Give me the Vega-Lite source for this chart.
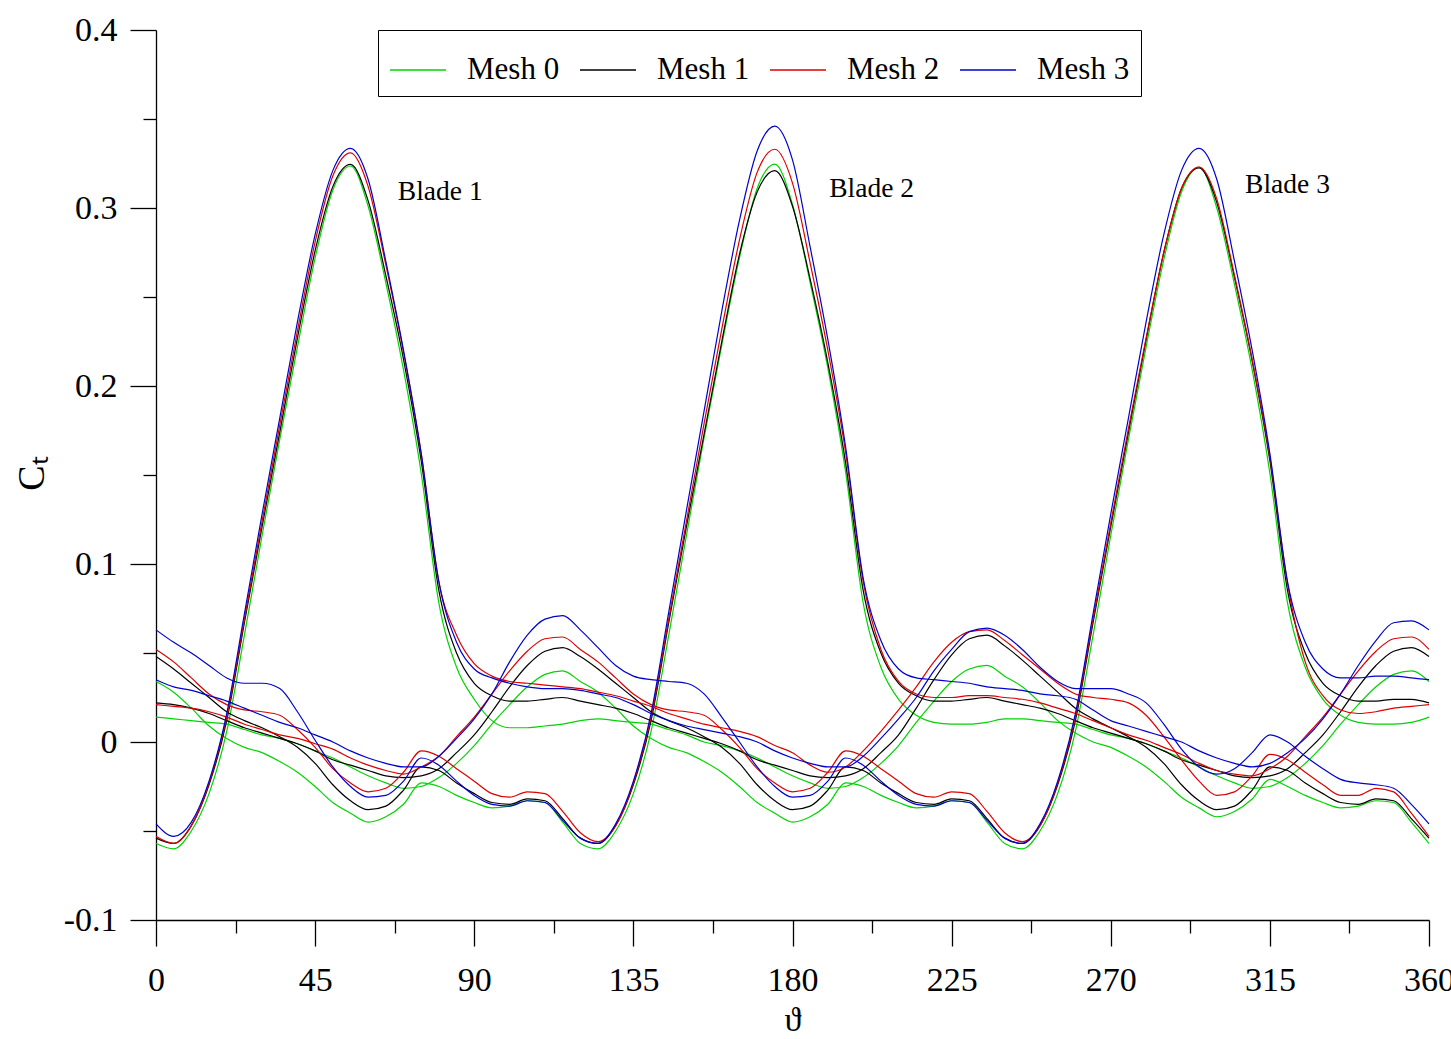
{
"$schema": "https://vega.github.io/schema/vega-lite/v6.json",
"width": 1273, "height": 890,
"autosize": {"type": "none"},
"padding": {"left": 156, "top": 30, "right": 22, "bottom": 119},
"background": "white",
"config": {"view": {"stroke": null}, "font": "Liberation Serif",
 "axis": {"grid": false, "labelFlush": false, "labelOverlap": false, "domainColor": "black", "tickColor": "black", "labelColor": "black", "titleColor": "black", "domainWidth": 1.3, "tickWidth": 1.3, "labelFont": "Liberation Serif", "titleFont": "Liberation Serif", "titleFontWeight": "normal"}},
"layer": [
{
"data": {"values": [
{"m":"Mesh 0","t":0,"a":-0.057,"b":0.034,"c":0.014},
{"m":"Mesh 0","t":5,"a":-0.060,"b":0.028,"c":0.013},
{"m":"Mesh 0","t":10,"a":-0.050,"b":0.019,"c":0.012},
{"m":"Mesh 0","t":15,"a":-0.029,"b":0.009,"c":0.011},
{"m":"Mesh 0","t":20,"a":0.006,"b":0.002,"c":0.010},
{"m":"Mesh 0","t":25,"a":0.060,"b":-0.003,"c":0.007},
{"m":"Mesh 0","t":30,"a":0.116,"b":-0.006,"c":0.004},
{"m":"Mesh 0","t":35,"a":0.170,"b":-0.011,"c":0.002},
{"m":"Mesh 0","t":40,"a":0.222,"b":-0.017,"c":-0.001},
{"m":"Mesh 0","t":45,"a":0.272,"b":-0.025,"c":-0.005},
{"m":"Mesh 0","t":50,"a":0.310,"b":-0.034,"c":-0.009},
{"m":"Mesh 0","t":55,"a":0.3236,"b":-0.040,"c":-0.014},
{"m":"Mesh 0","t":60,"a":0.301,"b":-0.045,"c":-0.019},
{"m":"Mesh 0","t":65,"a":0.258,"b":-0.042,"c":-0.023},
{"m":"Mesh 0","t":70,"a":0.209,"b":-0.035,"c":-0.026},
{"m":"Mesh 0","t":75,"a":0.151,"b":-0.023,"c":-0.025},
{"m":"Mesh 0","t":80,"a":0.078,"b":-0.025,"c":-0.020},
{"m":"Mesh 0","t":85,"a":0.042,"b":-0.030,"c":-0.012},
{"m":"Mesh 0","t":90,"a":0.024,"b":-0.034,"c":-0.002},
{"m":"Mesh 0","t":95,"a":0.012,"b":-0.037,"c":0.010},
{"m":"Mesh 0","t":100,"a":0.008,"b":-0.036,"c":0.021},
{"m":"Mesh 0","t":105,"a":0.008,"b":-0.033,"c":0.031},
{"m":"Mesh 0","t":110,"a":0.009,"b":-0.034,"c":0.038},
{"m":"Mesh 0","t":115,"a":0.010,"b":-0.045,"c":0.040},
{"m":"Mesh 0","t":120,"a":0.012,"b":-0.057,"c":0.034},
{"m":"Mesh 0","t":125,"a":0.013,"b":-0.060,"c":0.028},
{"m":"Mesh 0","t":130,"a":0.012,"b":-0.050,"c":0.019},
{"m":"Mesh 0","t":135,"a":0.011,"b":-0.029,"c":0.009},
{"m":"Mesh 0","t":140,"a":0.010,"b":0.006,"c":0.002},
{"m":"Mesh 0","t":145,"a":0.007,"b":0.060,"c":-0.003},
{"m":"Mesh 0","t":150,"a":0.004,"b":0.116,"c":-0.006},
{"m":"Mesh 0","t":155,"a":0.000,"b":0.171,"c":-0.011},
{"m":"Mesh 0","t":160,"a":-0.002,"b":0.223,"c":-0.017},
{"m":"Mesh 0","t":165,"a":-0.005,"b":0.272,"c":-0.025},
{"m":"Mesh 0","t":170,"a":-0.009,"b":0.311,"c":-0.034},
{"m":"Mesh 0","t":175,"a":-0.014,"b":0.3247,"c":-0.040},
{"m":"Mesh 0","t":180,"a":-0.019,"b":0.302,"c":-0.045},
{"m":"Mesh 0","t":185,"a":-0.023,"b":0.258,"c":-0.042},
{"m":"Mesh 0","t":190,"a":-0.026,"b":0.210,"c":-0.035},
{"m":"Mesh 0","t":195,"a":-0.025,"b":0.152,"c":-0.023},
{"m":"Mesh 0","t":200,"a":-0.020,"b":0.078,"c":-0.025},
{"m":"Mesh 0","t":205,"a":-0.012,"b":0.042,"c":-0.030},
{"m":"Mesh 0","t":210,"a":-0.002,"b":0.024,"c":-0.034},
{"m":"Mesh 0","t":215,"a":0.011,"b":0.015,"c":-0.037},
{"m":"Mesh 0","t":220,"a":0.023,"b":0.011,"c":-0.036},
{"m":"Mesh 0","t":225,"a":0.034,"b":0.010,"c":-0.033},
{"m":"Mesh 0","t":230,"a":0.041,"b":0.010,"c":-0.034},
{"m":"Mesh 0","t":235,"a":0.043,"b":0.011,"c":-0.045},
{"m":"Mesh 0","t":240,"a":0.037,"b":0.013,"c":-0.057},
{"m":"Mesh 0","t":245,"a":0.031,"b":0.013,"c":-0.060},
{"m":"Mesh 0","t":250,"a":0.022,"b":0.012,"c":-0.050},
{"m":"Mesh 0","t":255,"a":0.012,"b":0.011,"c":-0.029},
{"m":"Mesh 0","t":260,"a":0.005,"b":0.010,"c":0.006},
{"m":"Mesh 0","t":265,"a":0.000,"b":0.007,"c":0.060},
{"m":"Mesh 0","t":270,"a":-0.003,"b":0.004,"c":0.116},
{"m":"Mesh 0","t":275,"a":-0.008,"b":0.002,"c":0.170},
{"m":"Mesh 0","t":280,"a":-0.014,"b":-0.001,"c":0.222},
{"m":"Mesh 0","t":285,"a":-0.022,"b":-0.005,"c":0.271},
{"m":"Mesh 0","t":290,"a":-0.031,"b":-0.009,"c":0.309},
{"m":"Mesh 0","t":295,"a":-0.037,"b":-0.014,"c":0.323},
{"m":"Mesh 0","t":300,"a":-0.042,"b":-0.019,"c":0.300},
{"m":"Mesh 0","t":305,"a":-0.039,"b":-0.023,"c":0.257},
{"m":"Mesh 0","t":310,"a":-0.032,"b":-0.026,"c":0.209},
{"m":"Mesh 0","t":315,"a":-0.021,"b":-0.025,"c":0.151},
{"m":"Mesh 0","t":320,"a":-0.025,"b":-0.020,"c":0.078},
{"m":"Mesh 0","t":325,"a":-0.030,"b":-0.012,"c":0.042},
{"m":"Mesh 0","t":330,"a":-0.034,"b":-0.002,"c":0.024},
{"m":"Mesh 0","t":335,"a":-0.037,"b":0.010,"c":0.015},
{"m":"Mesh 0","t":340,"a":-0.036,"b":0.021,"c":0.011},
{"m":"Mesh 0","t":345,"a":-0.033,"b":0.031,"c":0.010},
{"m":"Mesh 0","t":350,"a":-0.034,"b":0.038,"c":0.010},
{"m":"Mesh 0","t":355,"a":-0.045,"b":0.040,"c":0.011},
{"m":"Mesh 0","t":360,"a":-0.057,"b":0.034,"c":0.014},
{"m":"Mesh 1","t":0,"a":-0.054,"b":0.048,"c":0.022},
{"m":"Mesh 1","t":5,"a":-0.057,"b":0.041,"c":0.021},
{"m":"Mesh 1","t":10,"a":-0.047,"b":0.033,"c":0.019},
{"m":"Mesh 1","t":15,"a":-0.024,"b":0.025,"c":0.016},
{"m":"Mesh 1","t":20,"a":0.012,"b":0.017,"c":0.012},
{"m":"Mesh 1","t":25,"a":0.067,"b":0.012,"c":0.008},
{"m":"Mesh 1","t":30,"a":0.121,"b":0.008,"c":0.005},
{"m":"Mesh 1","t":35,"a":0.174,"b":0.003,"c":0.002},
{"m":"Mesh 1","t":40,"a":0.227,"b":-0.003,"c":-0.001},
{"m":"Mesh 1","t":45,"a":0.276,"b":-0.012,"c":-0.005},
{"m":"Mesh 1","t":50,"a":0.312,"b":-0.024,"c":-0.010},
{"m":"Mesh 1","t":55,"a":0.3245,"b":-0.033,"c":-0.013},
{"m":"Mesh 1","t":60,"a":0.304,"b":-0.038,"c":-0.016},
{"m":"Mesh 1","t":65,"a":0.262,"b":-0.036,"c":-0.019},
{"m":"Mesh 1","t":70,"a":0.215,"b":-0.027,"c":-0.020},
{"m":"Mesh 1","t":75,"a":0.158,"b":-0.014,"c":-0.019},
{"m":"Mesh 1","t":80,"a":0.085,"b":-0.016,"c":-0.015},
{"m":"Mesh 1","t":85,"a":0.050,"b":-0.023,"c":-0.006},
{"m":"Mesh 1","t":90,"a":0.033,"b":-0.029,"c":0.004},
{"m":"Mesh 1","t":95,"a":0.026,"b":-0.034,"c":0.017},
{"m":"Mesh 1","t":100,"a":0.023,"b":-0.035,"c":0.031},
{"m":"Mesh 1","t":105,"a":0.023,"b":-0.032,"c":0.043},
{"m":"Mesh 1","t":110,"a":0.024,"b":-0.033,"c":0.051},
{"m":"Mesh 1","t":115,"a":0.025,"b":-0.043,"c":0.053},
{"m":"Mesh 1","t":120,"a":0.023,"b":-0.054,"c":0.048},
{"m":"Mesh 1","t":125,"a":0.021,"b":-0.057,"c":0.041},
{"m":"Mesh 1","t":130,"a":0.019,"b":-0.047,"c":0.033},
{"m":"Mesh 1","t":135,"a":0.016,"b":-0.024,"c":0.025},
{"m":"Mesh 1","t":140,"a":0.012,"b":0.012,"c":0.017},
{"m":"Mesh 1","t":145,"a":0.008,"b":0.067,"c":0.012},
{"m":"Mesh 1","t":150,"a":0.005,"b":0.121,"c":0.008},
{"m":"Mesh 1","t":155,"a":0.002,"b":0.173,"c":0.003},
{"m":"Mesh 1","t":160,"a":-0.001,"b":0.225,"c":-0.003},
{"m":"Mesh 1","t":165,"a":-0.005,"b":0.274,"c":-0.012},
{"m":"Mesh 1","t":170,"a":-0.010,"b":0.309,"c":-0.024},
{"m":"Mesh 1","t":175,"a":-0.013,"b":0.321,"c":-0.033},
{"m":"Mesh 1","t":180,"a":-0.016,"b":0.301,"c":-0.038},
{"m":"Mesh 1","t":185,"a":-0.019,"b":0.260,"c":-0.036},
{"m":"Mesh 1","t":190,"a":-0.020,"b":0.213,"c":-0.027},
{"m":"Mesh 1","t":195,"a":-0.019,"b":0.157,"c":-0.014},
{"m":"Mesh 1","t":200,"a":-0.015,"b":0.085,"c":-0.016},
{"m":"Mesh 1","t":205,"a":-0.006,"b":0.050,"c":-0.023},
{"m":"Mesh 1","t":210,"a":0.004,"b":0.033,"c":-0.029},
{"m":"Mesh 1","t":215,"a":0.019,"b":0.026,"c":-0.034},
{"m":"Mesh 1","t":220,"a":0.035,"b":0.023,"c":-0.035},
{"m":"Mesh 1","t":225,"a":0.049,"b":0.023,"c":-0.032},
{"m":"Mesh 1","t":230,"a":0.058,"b":0.024,"c":-0.033},
{"m":"Mesh 1","t":235,"a":0.060,"b":0.025,"c":-0.043},
{"m":"Mesh 1","t":240,"a":0.054,"b":0.023,"c":-0.054},
{"m":"Mesh 1","t":245,"a":0.046,"b":0.021,"c":-0.057},
{"m":"Mesh 1","t":250,"a":0.037,"b":0.019,"c":-0.047},
{"m":"Mesh 1","t":255,"a":0.028,"b":0.016,"c":-0.024},
{"m":"Mesh 1","t":260,"a":0.019,"b":0.012,"c":0.012},
{"m":"Mesh 1","t":265,"a":0.013,"b":0.008,"c":0.067},
{"m":"Mesh 1","t":270,"a":0.008,"b":0.005,"c":0.121},
{"m":"Mesh 1","t":275,"a":0.003,"b":0.002,"c":0.174},
{"m":"Mesh 1","t":280,"a":-0.003,"b":-0.001,"c":0.226},
{"m":"Mesh 1","t":285,"a":-0.012,"b":-0.005,"c":0.275},
{"m":"Mesh 1","t":290,"a":-0.024,"b":-0.010,"c":0.311},
{"m":"Mesh 1","t":295,"a":-0.033,"b":-0.013,"c":0.3225},
{"m":"Mesh 1","t":300,"a":-0.038,"b":-0.016,"c":0.303},
{"m":"Mesh 1","t":305,"a":-0.036,"b":-0.019,"c":0.261},
{"m":"Mesh 1","t":310,"a":-0.027,"b":-0.020,"c":0.214},
{"m":"Mesh 1","t":315,"a":-0.014,"b":-0.019,"c":0.158},
{"m":"Mesh 1","t":320,"a":-0.016,"b":-0.015,"c":0.085},
{"m":"Mesh 1","t":325,"a":-0.023,"b":-0.006,"c":0.050},
{"m":"Mesh 1","t":330,"a":-0.029,"b":0.004,"c":0.033},
{"m":"Mesh 1","t":335,"a":-0.034,"b":0.017,"c":0.026},
{"m":"Mesh 1","t":340,"a":-0.035,"b":0.031,"c":0.023},
{"m":"Mesh 1","t":345,"a":-0.032,"b":0.043,"c":0.023},
{"m":"Mesh 1","t":350,"a":-0.033,"b":0.051,"c":0.024},
{"m":"Mesh 1","t":355,"a":-0.043,"b":0.053,"c":0.024},
{"m":"Mesh 1","t":360,"a":-0.054,"b":0.048,"c":0.022},
{"m":"Mesh 2","t":0,"a":-0.053,"b":0.052,"c":0.021},
{"m":"Mesh 2","t":5,"a":-0.057,"b":0.045,"c":0.020},
{"m":"Mesh 2","t":10,"a":-0.047,"b":0.036,"c":0.019},
{"m":"Mesh 2","t":15,"a":-0.023,"b":0.027,"c":0.017},
{"m":"Mesh 2","t":20,"a":0.014,"b":0.021,"c":0.014},
{"m":"Mesh 2","t":25,"a":0.069,"b":0.018,"c":0.010},
{"m":"Mesh 2","t":30,"a":0.124,"b":0.017,"c":0.007},
{"m":"Mesh 2","t":35,"a":0.178,"b":0.015,"c":0.004},
{"m":"Mesh 2","t":40,"a":0.231,"b":0.007,"c":0.002},
{"m":"Mesh 2","t":45,"a":0.281,"b":-0.003,"c":-0.001},
{"m":"Mesh 2","t":50,"a":0.318,"b":-0.015,"c":-0.004},
{"m":"Mesh 2","t":55,"a":0.331,"b":-0.023,"c":-0.009},
{"m":"Mesh 2","t":60,"a":0.312,"b":-0.028,"c":-0.013},
{"m":"Mesh 2","t":65,"a":0.268,"b":-0.026,"c":-0.016},
{"m":"Mesh 2","t":70,"a":0.219,"b":-0.017,"c":-0.018},
{"m":"Mesh 2","t":75,"a":0.162,"b":-0.005,"c":-0.014},
{"m":"Mesh 2","t":80,"a":0.090,"b":-0.008,"c":-0.008},
{"m":"Mesh 2","t":85,"a":0.060,"b":-0.015,"c":0.003},
{"m":"Mesh 2","t":90,"a":0.044,"b":-0.022,"c":0.014},
{"m":"Mesh 2","t":95,"a":0.037,"b":-0.029,"c":0.027},
{"m":"Mesh 2","t":100,"a":0.034,"b":-0.031,"c":0.040},
{"m":"Mesh 2","t":105,"a":0.033,"b":-0.028,"c":0.051},
{"m":"Mesh 2","t":110,"a":0.032,"b":-0.029,"c":0.058},
{"m":"Mesh 2","t":115,"a":0.031,"b":-0.039,"c":0.059},
{"m":"Mesh 2","t":120,"a":0.030,"b":-0.051,"c":0.052},
{"m":"Mesh 2","t":125,"a":0.028,"b":-0.056,"c":0.045},
{"m":"Mesh 2","t":130,"a":0.026,"b":-0.047,"c":0.036},
{"m":"Mesh 2","t":135,"a":0.023,"b":-0.023,"c":0.027},
{"m":"Mesh 2","t":140,"a":0.020,"b":0.014,"c":0.021},
{"m":"Mesh 2","t":145,"a":0.016,"b":0.069,"c":0.018},
{"m":"Mesh 2","t":150,"a":0.013,"b":0.124,"c":0.017},
{"m":"Mesh 2","t":155,"a":0.010,"b":0.179,"c":0.015},
{"m":"Mesh 2","t":160,"a":0.008,"b":0.232,"c":0.007},
{"m":"Mesh 2","t":165,"a":0.006,"b":0.282,"c":-0.003},
{"m":"Mesh 2","t":170,"a":0.003,"b":0.320,"c":-0.015},
{"m":"Mesh 2","t":175,"a":-0.002,"b":0.333,"c":-0.023},
{"m":"Mesh 2","t":180,"a":-0.006,"b":0.314,"c":-0.028},
{"m":"Mesh 2","t":185,"a":-0.013,"b":0.269,"c":-0.026},
{"m":"Mesh 2","t":190,"a":-0.017,"b":0.220,"c":-0.017},
{"m":"Mesh 2","t":195,"a":-0.014,"b":0.163,"c":-0.005},
{"m":"Mesh 2","t":200,"a":-0.005,"b":0.090,"c":-0.008},
{"m":"Mesh 2","t":205,"a":0.006,"b":0.052,"c":-0.015},
{"m":"Mesh 2","t":210,"a":0.018,"b":0.034,"c":-0.022},
{"m":"Mesh 2","t":215,"a":0.031,"b":0.027,"c":-0.029},
{"m":"Mesh 2","t":220,"a":0.045,"b":0.025,"c":-0.031},
{"m":"Mesh 2","t":225,"a":0.056,"b":0.025,"c":-0.028},
{"m":"Mesh 2","t":230,"a":0.062,"b":0.026,"c":-0.029},
{"m":"Mesh 2","t":235,"a":0.063,"b":0.026,"c":-0.039},
{"m":"Mesh 2","t":240,"a":0.057,"b":0.025,"c":-0.051},
{"m":"Mesh 2","t":245,"a":0.049,"b":0.024,"c":-0.056},
{"m":"Mesh 2","t":250,"a":0.041,"b":0.022,"c":-0.047},
{"m":"Mesh 2","t":255,"a":0.033,"b":0.019,"c":-0.023},
{"m":"Mesh 2","t":260,"a":0.027,"b":0.016,"c":0.014},
{"m":"Mesh 2","t":265,"a":0.025,"b":0.012,"c":0.069},
{"m":"Mesh 2","t":270,"a":0.024,"b":0.008,"c":0.123},
{"m":"Mesh 2","t":275,"a":0.022,"b":0.004,"c":0.176},
{"m":"Mesh 2","t":280,"a":0.015,"b":0.001,"c":0.227},
{"m":"Mesh 2","t":285,"a":0.003,"b":-0.003,"c":0.275},
{"m":"Mesh 2","t":290,"a":-0.010,"b":-0.007,"c":0.311},
{"m":"Mesh 2","t":295,"a":-0.022,"b":-0.012,"c":0.323},
{"m":"Mesh 2","t":300,"a":-0.030,"b":-0.016,"c":0.305},
{"m":"Mesh 2","t":305,"a":-0.028,"b":-0.018,"c":0.262},
{"m":"Mesh 2","t":310,"a":-0.019,"b":-0.019,"c":0.215},
{"m":"Mesh 2","t":315,"a":-0.007,"b":-0.015,"c":0.160},
{"m":"Mesh 2","t":320,"a":-0.010,"b":-0.008,"c":0.089},
{"m":"Mesh 2","t":325,"a":-0.017,"b":0.003,"c":0.045},
{"m":"Mesh 2","t":330,"a":-0.024,"b":0.014,"c":0.026},
{"m":"Mesh 2","t":335,"a":-0.030,"b":0.027,"c":0.018},
{"m":"Mesh 2","t":340,"a":-0.030,"b":0.040,"c":0.016},
{"m":"Mesh 2","t":345,"a":-0.026,"b":0.051,"c":0.017},
{"m":"Mesh 2","t":350,"a":-0.028,"b":0.058,"c":0.019},
{"m":"Mesh 2","t":355,"a":-0.040,"b":0.059,"c":0.020},
{"m":"Mesh 2","t":360,"a":-0.053,"b":0.052,"c":0.021},
{"m":"Mesh 3","t":0,"a":-0.046,"b":0.063,"c":0.035},
{"m":"Mesh 3","t":5,"a":-0.053,"b":0.056,"c":0.031},
{"m":"Mesh 3","t":10,"a":-0.045,"b":0.050,"c":0.029},
{"m":"Mesh 3","t":15,"a":-0.022,"b":0.043,"c":0.026},
{"m":"Mesh 3","t":20,"a":0.016,"b":0.036,"c":0.023},
{"m":"Mesh 3","t":25,"a":0.072,"b":0.033,"c":0.019},
{"m":"Mesh 3","t":30,"a":0.128,"b":0.033,"c":0.015},
{"m":"Mesh 3","t":35,"a":0.182,"b":0.030,"c":0.011},
{"m":"Mesh 3","t":40,"a":0.236,"b":0.017,"c":0.008},
{"m":"Mesh 3","t":45,"a":0.285,"b":0.001,"c":0.004},
{"m":"Mesh 3","t":50,"a":0.321,"b":-0.014,"c":0.000},
{"m":"Mesh 3","t":55,"a":0.3335,"b":-0.025,"c":-0.005},
{"m":"Mesh 3","t":60,"a":0.316,"b":-0.031,"c":-0.009},
{"m":"Mesh 3","t":65,"a":0.270,"b":-0.030,"c":-0.012},
{"m":"Mesh 3","t":70,"a":0.220,"b":-0.022,"c":-0.014},
{"m":"Mesh 3","t":75,"a":0.162,"b":-0.009,"c":-0.014},
{"m":"Mesh 3","t":80,"a":0.090,"b":-0.013,"c":-0.008},
{"m":"Mesh 3","t":85,"a":0.056,"b":-0.022,"c":0.002},
{"m":"Mesh 3","t":90,"a":0.041,"b":-0.030,"c":0.013},
{"m":"Mesh 3","t":95,"a":0.036,"b":-0.035,"c":0.027},
{"m":"Mesh 3","t":100,"a":0.033,"b":-0.036,"c":0.045},
{"m":"Mesh 3","t":105,"a":0.031,"b":-0.033,"c":0.060},
{"m":"Mesh 3","t":110,"a":0.030,"b":-0.034,"c":0.069},
{"m":"Mesh 3","t":115,"a":0.030,"b":-0.044,"c":0.071},
{"m":"Mesh 3","t":120,"a":0.029,"b":-0.054,"c":0.063},
{"m":"Mesh 3","t":125,"a":0.027,"b":-0.057,"c":0.053},
{"m":"Mesh 3","t":130,"a":0.025,"b":-0.046,"c":0.043},
{"m":"Mesh 3","t":135,"a":0.021,"b":-0.022,"c":0.037},
{"m":"Mesh 3","t":140,"a":0.016,"b":0.016,"c":0.035},
{"m":"Mesh 3","t":145,"a":0.012,"b":0.073,"c":0.034},
{"m":"Mesh 3","t":150,"a":0.009,"b":0.130,"c":0.033},
{"m":"Mesh 3","t":155,"a":0.007,"b":0.186,"c":0.027},
{"m":"Mesh 3","t":160,"a":0.005,"b":0.242,"c":0.014},
{"m":"Mesh 3","t":165,"a":0.003,"b":0.293,"c":0.000},
{"m":"Mesh 3","t":170,"a":0.000,"b":0.332,"c":-0.014},
{"m":"Mesh 3","t":175,"a":-0.005,"b":0.346,"c":-0.025},
{"m":"Mesh 3","t":180,"a":-0.009,"b":0.327,"c":-0.031},
{"m":"Mesh 3","t":185,"a":-0.012,"b":0.278,"c":-0.030},
{"m":"Mesh 3","t":190,"a":-0.014,"b":0.226,"c":-0.022},
{"m":"Mesh 3","t":195,"a":-0.014,"b":0.166,"c":-0.009},
{"m":"Mesh 3","t":200,"a":-0.008,"b":0.092,"c":-0.013},
{"m":"Mesh 3","t":205,"a":0.002,"b":0.057,"c":-0.022},
{"m":"Mesh 3","t":210,"a":0.013,"b":0.041,"c":-0.030},
{"m":"Mesh 3","t":215,"a":0.025,"b":0.036,"c":-0.035},
{"m":"Mesh 3","t":220,"a":0.040,"b":0.035,"c":-0.036},
{"m":"Mesh 3","t":225,"a":0.052,"b":0.034,"c":-0.033},
{"m":"Mesh 3","t":230,"a":0.062,"b":0.033,"c":-0.034},
{"m":"Mesh 3","t":235,"a":0.064,"b":0.031,"c":-0.044},
{"m":"Mesh 3","t":240,"a":0.060,"b":0.030,"c":-0.054},
{"m":"Mesh 3","t":245,"a":0.052,"b":0.029,"c":-0.057},
{"m":"Mesh 3","t":250,"a":0.042,"b":0.027,"c":-0.046},
{"m":"Mesh 3","t":255,"a":0.034,"b":0.026,"c":-0.022},
{"m":"Mesh 3","t":260,"a":0.030,"b":0.024,"c":0.016},
{"m":"Mesh 3","t":265,"a":0.030,"b":0.018,"c":0.072},
{"m":"Mesh 3","t":270,"a":0.030,"b":0.012,"c":0.128},
{"m":"Mesh 3","t":275,"a":0.027,"b":0.009,"c":0.182},
{"m":"Mesh 3","t":280,"a":0.022,"b":0.006,"c":0.236},
{"m":"Mesh 3","t":285,"a":0.010,"b":0.003,"c":0.285},
{"m":"Mesh 3","t":290,"a":-0.004,"b":0.000,"c":0.321},
{"m":"Mesh 3","t":295,"a":-0.014,"b":-0.005,"c":0.3335},
{"m":"Mesh 3","t":300,"a":-0.018,"b":-0.009,"c":0.316},
{"m":"Mesh 3","t":305,"a":-0.015,"b":-0.012,"c":0.270},
{"m":"Mesh 3","t":310,"a":-0.006,"b":-0.014,"c":0.220},
{"m":"Mesh 3","t":315,"a":0.004,"b":-0.012,"c":0.162},
{"m":"Mesh 3","t":320,"a":0.000,"b":-0.006,"c":0.090},
{"m":"Mesh 3","t":325,"a":-0.008,"b":0.002,"c":0.056},
{"m":"Mesh 3","t":330,"a":-0.015,"b":0.013,"c":0.041},
{"m":"Mesh 3","t":335,"a":-0.021,"b":0.027,"c":0.036},
{"m":"Mesh 3","t":340,"a":-0.023,"b":0.043,"c":0.036},
{"m":"Mesh 3","t":345,"a":-0.024,"b":0.057,"c":0.037},
{"m":"Mesh 3","t":350,"a":-0.026,"b":0.067,"c":0.037},
{"m":"Mesh 3","t":355,"a":-0.035,"b":0.068,"c":0.036},
{"m":"Mesh 3","t":360,"a":-0.046,"b":0.063,"c":0.035}
]},
"transform": [{"fold": ["a", "b", "c"], "as": ["blade", "ct"]}],
"mark": {"type": "line", "interpolate": "monotone", "strokeWidth": 1.2},
"encoding": {
 "x": {"field": "t", "type": "quantitative", "scale": {"domain": [0, 360], "nice": false, "zero": false},
  "axis": {"orient": "bottom", "values": [0, 45, 90, 135, 180, 225, 270, 315, 360], "format": "d", "tickSize": 26, "labelFontSize": 34, "labelPadding": 17, "labelFlush": false, "title": "ϑ", "titleFontSize": 34, "titleY": 100, "titleBaseline": "middle"}},
 "y": {"field": "ct", "type": "quantitative", "scale": {"domain": [-0.1, 0.4], "nice": false, "zero": false},
  "axis": {"orient": "left", "values": [-0.1, 0, 0.1, 0.2, 0.3, 0.4], "labelExpr": "datum.value < -0.001 ? '-' + format(-datum.value, '.1f') : (abs(datum.value) < 0.001 ? '0' : format(datum.value, '.1f'))", "tickSize": 26, "labelFontSize": 34, "labelPadding": 13, "labelFlush": false, "title": "Cₜ", "titleFontSize": 38, "titleAngle": -90, "titleX": -124, "titleY": 443, "titleAlign": "center", "titleBaseline": "middle"}},
 "color": {"field": "m", "type": "nominal", "scale": {"domain": ["Mesh 0", "Mesh 1", "Mesh 2", "Mesh 3"], "range": ["#00d400", "#000000", "#dd0000", "#0000cc"]},
  "legend": {"orient": "none", "legendX": 222, "legendY": 0, "direction": "horizontal", "title": null, "symbolType": "stroke", "symbolSize": 3136, "symbolStrokeWidth": 1.5, "labelFont": "Liberation Serif", "labelFontSize": 31, "labelColor": "black", "labelOffset": 20, "columnPadding": 17, "padding": 11, "strokeColor": "black", "fillColor": "white", "labelLimit": 0}},
 "detail": {"field": "blade", "type": "nominal"}
}
},
{
"data": {"values": [
 {"t": 68.4, "ct": 0.3045, "label": "Blade 1"},
 {"t": 190.4, "ct": 0.306, "label": "Blade 2"},
 {"t": 308.0, "ct": 0.3083, "label": "Blade 3"}
]},
"mark": {"type": "text", "align": "left", "baseline": "alphabetic", "fontSize": 27.5, "font": "Liberation Serif", "color": "black"},
"encoding": {
 "x": {"field": "t", "type": "quantitative", "scale": {"domain": [0, 360], "nice": false, "zero": false},
  "axis": {"orient": "bottom", "values": [22.5, 67.5, 112.5, 157.5, 202.5, 247.5, 292.5, 337.5], "tickSize": 13, "labels": false, "domain": false, "title": null}},
 "y": {"field": "ct", "type": "quantitative", "scale": {"domain": [-0.1, 0.4], "nice": false, "zero": false},
  "axis": {"orient": "left", "values": [-0.05, 0.05, 0.15, 0.25, 0.35], "tickSize": 13, "labels": false, "domain": false, "title": null}},
 "text": {"field": "label"}
}
}
],
"resolve": {"axis": {"x": "independent", "y": "independent"}}
}
